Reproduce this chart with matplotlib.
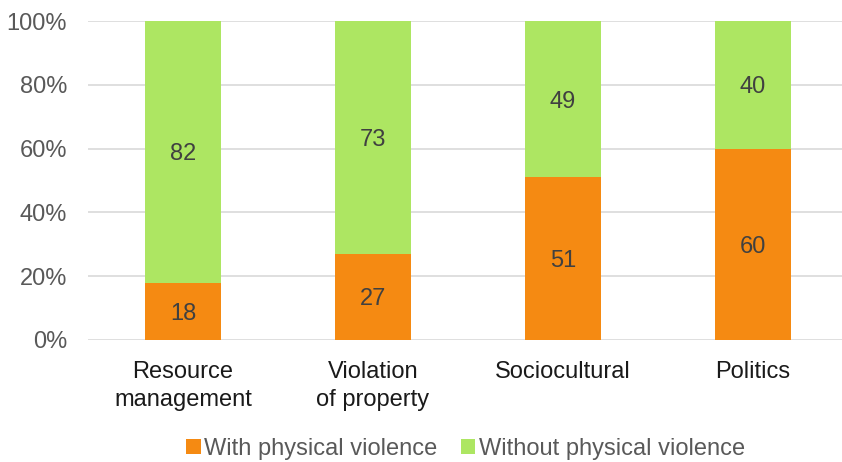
import matplotlib.pyplot as plt
from matplotlib.ticker import PercentFormatter

plt.rcParams["font.family"] = ["Liberation Sans", "DejaVu Sans"]

categories = ["Resource\nmanagement", "Violation\nof property", "Sociocultural", "Politics"]
with_violence = [18, 27, 51, 60]
without_violence = [82, 73, 49, 40]

ORANGE = "#F58A12"
GREEN = "#ADE662"

fig = plt.figure(figsize=(8.42, 4.62), dpi=100)
ax = fig.add_axes([88 / 842, 1 - 340 / 462, 754 / 842, 319 / 462])

x = range(len(categories))
b1 = ax.bar(x, with_violence, width=0.4, color=ORANGE, label="With physical violence", zorder=3)
b2 = ax.bar(x, without_violence, width=0.4, bottom=with_violence, color=GREEN,
            label="Without physical violence", zorder=3)

# value labels in the middle of each segment
for bars, vals, bottoms in [(b1, with_violence, [0] * 4), (b2, without_violence, with_violence)]:
    for rect, v, b in zip(bars, vals, bottoms):
        ax.text(rect.get_x() + rect.get_width() / 2, b + v / 2, str(v),
                ha="center", va="center_baseline", fontsize=17, color="#404040", zorder=4)

ax.set_xlim(-0.5, 3.47)
ax.set_ylim(0, 100)
ax.set_yticks(range(0, 101, 20))
ax.yaxis.set_major_formatter(PercentFormatter(decimals=0))
ax.set_xticks(list(x))
ax.set_xticklabels(categories, fontsize=17, color="#1a1a1a", linespacing=1.38)
ax.tick_params(axis="y", labelsize=17, labelcolor="#595959", length=0, pad=15)
ax.tick_params(axis="x", length=0, pad=15)
ax.grid(axis="y", color="#d9d9d9", linewidth=1.2, zorder=0)
for s in ax.spines.values():
    s.set_visible(False)

fig.legend(loc="lower center", bbox_to_anchor=(0.553, -0.042), ncol=2, frameon=False,
           fontsize=17, labelcolor="#595959", handlelength=0.6, handleheight=0.6,
           handletextpad=0.15, columnspacing=1.0)

fig.savefig("out.png", dpi=100)
